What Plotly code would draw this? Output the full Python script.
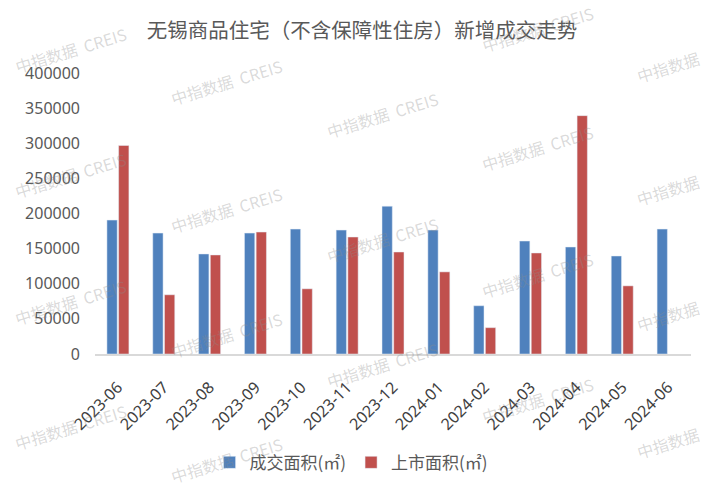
import plotly.graph_objects as go

months = ["2023-06", "2023-07", "2023-08", "2023-09", "2023-10", "2023-11", "2023-12",
          "2024-01", "2024-02", "2024-03", "2024-04", "2024-05", "2024-06"]
deal_area = [190600, 172100, 142400, 172100, 177800, 176400, 210400,
             176400, 68700, 160800, 152300, 139500, 177800]
supply_area = [296800, 84300, 141000, 173600, 92800, 166500, 145200,
               116900, 37500, 143800, 339300, 97000, None]
y_ticks = [0, 50000, 100000, 150000, 200000, 250000, 300000, 350000, 400000]

title_text = "无锡商品住宅（不含保障性住房）新增成交走势"
name_deal = "成交面积(㎡)"
name_supply = "上市面积(㎡)"
wm_full = "中指数据  CREIS"
wm_short = "中指数据"

W, H = 714, 487
ML, MR, MT, MB = 94.5, 22.5, 72.5, 133
PW, PH = W - ML - MR, H - MT - MB

def px2paper(x, y):
    return (x - ML) / PW, (H - MB - y) / PH

fig = go.Figure()
fig.add_trace(go.Bar(x=months, y=deal_area, name=name_deal, marker_color="#4F81BD"))
fig.add_trace(go.Bar(x=months, y=supply_area, name=name_supply, marker_color="#C0504D"))

wm_positions = [
    (70, 49, wm_full), (70, 175, wm_full), (70, 302, wm_full), (70, 427, wm_full),
    (226, 82, wm_full), (226, 210, wm_full), (226, 335, wm_full), (226, 460, wm_full),
    (382, 115, wm_full), (382, 240, wm_full), (382, 365, wm_full),
    (538, 28, wm_full), (538, 148, wm_full), (538, 275, wm_full), (538, 400, wm_full),
    (668, 66, wm_short), (668, 190, wm_short), (668, 316, wm_short), (668, 443, wm_short),
]
annotations = []
for (x, y, t) in wm_positions:
    px, py = px2paper(x, y)
    annotations.append(dict(
        x=px, y=py, xref="paper", yref="paper", text=t, showarrow=False,
        textangle=-17, xanchor="center", yanchor="middle",
        font=dict(family="Noto Sans CJK SC", size=16, color="rgba(140,140,140,0.32)"),
    ))

lx, ly = px2paper(351, 463)

fig.update_layout(
    width=W, height=H,
    margin=dict(l=ML, r=MR, t=MT, b=MB, autoexpand=False),
    paper_bgcolor="white", plot_bgcolor="white",
    title=dict(text=title_text, x=362 / W, xanchor="center", xref="container",
               y=1 - 31 / H, yanchor="middle", yref="container",
               font=dict(family="Noto Sans CJK SC", size=20.5, color="#595959")),
    barmode="group", bargap=0.49, bargroupgap=0.12,
    showlegend=True,
    legend=dict(orientation="h", x=lx, y=ly, xanchor="center", yanchor="middle",
                font=dict(family="Noto Sans CJK SC", size=17, color="#595959"),
                itemwidth=30, bgcolor="rgba(0,0,0,0)"),
    xaxis=dict(type="category", tickangle=-45, showline=True, linecolor="#d9d9d9", linewidth=1.5,
               showgrid=False, ticks="", ticklabelstandoff=16,
               tickfont=dict(family="Noto Sans", size=16, color="#404040")),
    yaxis=dict(range=[0, 400000], tickvals=y_ticks, ticktext=[str(v) for v in y_ticks],
               showgrid=False, zeroline=False, showline=False, ticks="",
               ticklabelstandoff=14,
               tickfont=dict(family="Noto Sans", size=16, color="#595959")),
    annotations=annotations,
)

fig.write_html("out.html", config={"displayModeBar": False},
               post_script="document.body.style.margin='0';document.body.style.padding='0';")
